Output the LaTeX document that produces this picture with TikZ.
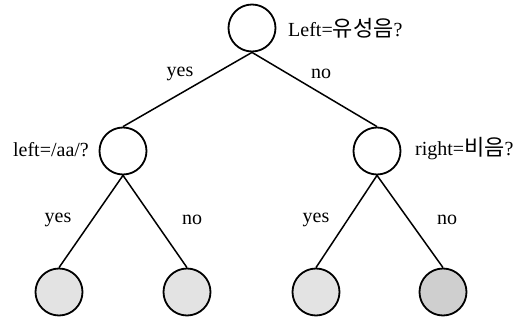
\documentclass[tikz,border=0pt]{standalone}
\usepackage{fontspec}
\setmainfont{Liberation Serif}
\newfontfamily\kr{Noto Sans CJK KR}[Scale=1.1]
\begin{document}
\begin{tikzpicture}[x=1pt,y=-1pt,
  nd/.style={circle,draw,line width=1.8pt,minimum size=47pt,inner sep=0pt},
  leaf/.style={nd,fill=gray!22},
  dleaf/.style={nd,fill=gray!38},
  edge/.style={line width=1.5pt},
  lbl/.style={font=\fontsize{20}{22}\selectfont,inner sep=0pt}]
\useasboundingbox (0,0) rectangle (523,320);
\node[nd] (root) at (252,28) {};
\node[nd] (L) at (123,151) {};
\node[nd] (R) at (377,151) {};
\node[leaf] (l1) at (59,292) {};
\node[leaf] (l2) at (187,292) {};
\node[leaf] (l3) at (316,292) {};
\node[dleaf] (l4) at (443,292) {};
\draw[edge] (root.south) -- (L.north);
\draw[edge] (root.south) -- (R.north);
\draw[edge] (L.south) -- (l1.north);
\draw[edge] (L.south) -- (l2.north);
\draw[edge] (R.south) -- (l3.north);
\draw[edge] (R.south) -- (l4.north);
\node[lbl,anchor=west] (t0) at (288,28) {Left={\kr 유성음}?};
\node[lbl,anchor=east] (t1) at (89,150) {left=/aa/?};
\node[lbl,anchor=west] (t2) at (415,149) {right={\kr 비음}?};
\node[lbl] (y0) at (180,74) {yes};
\node[lbl] (n0) at (321,74) {no};
\node[lbl] (y1) at (58,220) {yes};
\node[lbl] (n1) at (192,220) {no};
\node[lbl] (y2) at (316,220) {yes};
\node[lbl] (n2) at (447,220) {no};
\end{tikzpicture}
\end{document}
